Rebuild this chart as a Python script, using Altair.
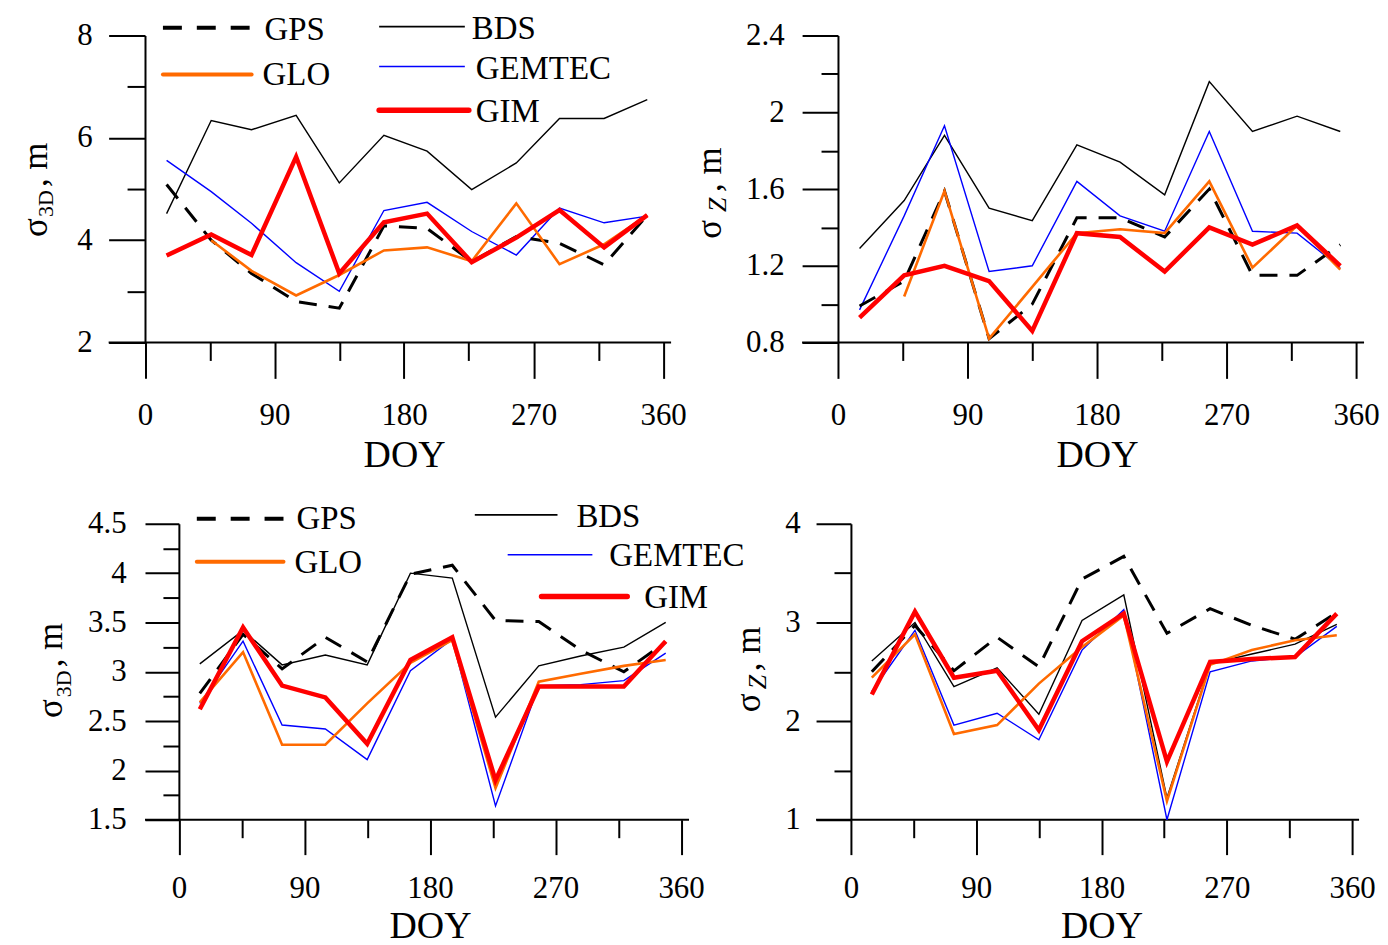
import altair as alt
import pandas as pd

# ---------------- data ----------------
DOY = [15, 46, 74, 105, 135, 166, 196, 227, 258, 288, 319, 349]
X_TICKS = [0, 45, 90, 135, 180, 225, 270, 315, 360]

# top-left: sigma 3D
p1_GPS = [5.09, 4.00, 3.35, 2.80, 2.67, 4.28, 4.23, 3.58, 4.07, 3.94, 3.52, 4.49]
p1_BDS = [4.52, 6.34, 6.16, 6.44, 5.12, 6.05, 5.74, 4.99, 5.51, 6.38, 6.38, 6.75]
p1_GLO = [None, 4.00, 3.40, 2.92, 3.32, 3.80, 3.86, 3.59, 4.72, 3.53, 3.92, 4.49]
p1_GEMTEC = [5.56, 4.95, 4.33, 3.56, 3.00, 4.58, 4.74, 4.17, 3.71, 4.63, 4.34, 4.47]
p1_GIM = [3.70, 4.11, 3.71, 5.63, 3.35, 4.35, 4.52, 3.57, 4.05, 4.59, 3.86, 4.49]
p1_YTICKS = [2, 3, 4, 5, 6, 7, 8]

# top-right: sigma Z
p2_GPS = [0.99, 1.12, 1.59, 0.82, 1.00, 1.45, 1.45, 1.35, 1.60, 1.15, 1.15, 1.31]
p2_BDS = [1.29, 1.54, 1.88, 1.50, 1.435, 1.83, 1.74, 1.57, 2.16, 1.90, 1.98, 1.90]
p2_GLO = [None, 1.04, 1.59, 0.82, 1.09, 1.37, 1.39, 1.37, 1.64, 1.19, 1.41, 1.18]
p2_GEMTEC = [0.97, 1.46, 1.93, 1.17, 1.20, 1.64, 1.46, 1.38, 1.90, 1.38, 1.37, 1.19]
p2_GIM = [0.93, 1.15, 1.20, 1.12, 0.86, 1.37, 1.35, 1.17, 1.40, 1.31, 1.41, 1.20]
p2_YTICKS = [0.8, 1.0, 1.2, 1.4, 1.6, 1.8, 2.0, 2.2, 2.4]

# bottom-left: sigma 3D
p3_GPS = [2.78, 3.38, 3.03, 3.35, 3.10, 3.99, 4.08, 3.52, 3.51, 3.22, 3.00, 3.30]
p3_BDS = [3.08, 3.42, 3.07, 3.17, 3.07, 4.00, 3.95, 2.54, 3.06, 3.16, 3.25, 3.50]
p3_GLO = [2.69, 3.20, 2.26, 2.26, 2.68, 3.09, 3.32, 1.82, 2.90, 2.98, 3.06, 3.12]
p3_GEMTEC = [2.68, 3.31, 2.46, 2.42, 2.11, 3.01, 3.33, 1.64, 2.86, 2.87, 2.91, 3.19]
p3_GIM = [2.62, 3.45, 2.86, 2.74, 2.27, 3.12, 3.35, 1.90, 2.85, 2.85, 2.85, 3.31]
p3_YTICKS = [1.5, 1.75, 2.0, 2.25, 2.5, 2.75, 3.0, 3.25, 3.5, 3.75, 4.0, 4.25, 4.5]

# bottom-right: sigma Z
p4_GPS = [2.50, 2.97, 2.51, 2.85, 2.55, 3.44, 3.67, 2.89, 3.14, 2.97, 2.83, 3.10]
p4_BDS = [2.61, 3.00, 2.35, 2.54, 2.07, 3.02, 3.28, 1.22, 2.58, 2.68, 2.78, 2.98]
p4_GLO = [2.44, 2.88, 1.87, 1.96, 2.38, 2.75, 3.07, 1.19, 2.57, 2.72, 2.82, 2.87]
p4_GEMTEC = [2.30, 2.92, 1.96, 2.08, 1.81, 2.72, 3.13, 1.00, 2.50, 2.61, 2.65, 2.96]
p4_GIM = [2.27, 3.11, 2.44, 2.51, 1.91, 2.81, 3.09, 1.59, 2.60, 2.63, 2.65, 3.09]
p4_YTICKS = [1.0, 1.5, 2.0, 2.5, 3.0, 3.5, 4.0]

SERIES_ORDER = ["BDS", "GEMTEC", "GPS", "GLO", "GIM"]

# ---------------- styles ----------------
FONT = "Liberation Serif"
STYLE = {
    "BDS": dict(color="#000000", strokeWidth=1.4),
    "GEMTEC": dict(color="#0000FF", strokeWidth=1.4),
    "GPS": dict(color="#000000", strokeWidth=3, strokeDash=[18, 12]),
    "GLO": dict(color="#FF6A00", strokeWidth=2.6),
    "GIM": dict(color="#FF0000", strokeWidth=4.5),
}
LEG_STYLE = {
    "BDS": dict(color="#000000", strokeWidth=1.6),
    "GEMTEC": dict(color="#0000FF", strokeWidth=1.6),
    "GPS": dict(color="#000000", strokeWidth=4, strokeDash=[19, 15]),
    "GLO": dict(color="#FF6A00", strokeWidth=4, strokeCap="round"),
    "GIM": dict(color="#FF0000", strokeWidth=5.5, strokeCap="round"),
}
ONE = pd.DataFrame({"a": [0]})


def text(t, x, y, size, angle=0, style="normal"):
    kw = dict(font=FONT, fontSize=size, align="left", baseline="alphabetic",
              color="black", text=t, fontStyle=style)
    if angle:
        kw["angle"] = angle
    return alt.Chart(ONE).mark_text(**kw).encode(x=alt.value(x), y=alt.value(y))


def anchor(x, y):
    return alt.Chart(ONE).mark_point(opacity=0, size=1, filled=True).encode(
        x=alt.value(x), y=alt.value(y))


def panel(series, geom, yticks, ytest, xmaj, xmin_t, xpad, ymaj, ymin_t, ypad,
          titleY, ytitle, legend, extras=()):
    # L: left edge of the plot area, X0: left end of x-axis line, A: x of DOY 0,
    # R360: x of DOY 360, Rend: right end of plot/axis line, T/B: top/bottom
    L, X0, A, R360, Rend, T, B = geom
    ppu = (R360 - A) / 360.0
    xlo = -(A - L) / ppu
    xhi = (Rend - A) / ppu
    width = Rend - L
    height = B - T

    xenc = alt.X("doy:Q",
                 scale=alt.Scale(domain=[xlo, xhi], nice=False, zero=False),
                 axis=alt.Axis(values=X_TICKS, domain=False,
                               tickSize={"condition": {"test": "datum.value % 90 === 0", "value": xmaj}, "value": xmin_t},
                               labelExpr="datum.value % 90 === 0 ? datum.label : ''",
                               labelPadding=xpad, labelOverlap=False, labelFlush=False,
                               title="DOY", titleX=(A - L) + 180 * ppu, titleY=titleY,
                               titleBaseline="alphabetic", titleAlign="center",
                               titleFontSize=38))
    yenc = alt.Y("v:Q",
                 scale=alt.Scale(domain=[yticks[0], yticks[-1]], nice=False, zero=False),
                 axis=alt.Axis(values=yticks, offset=-(A - L),
                               tickSize={"condition": {"test": ytest, "value": ymaj}, "value": ymin_t},
                               labelExpr="(" + ytest + ") ? ('' + datum.value) : ''",
                               labelPadding=ypad, labelOverlap=False, labelFlush=False,
                               title=None))
    layers = [alt.Chart(ONE).mark_rule(color="black", strokeWidth=2).encode(
        x=alt.value(X0 - L), x2=alt.value(width), y=alt.value(height))]
    for name in SERIES_ORDER:
        df = pd.DataFrame({"doy": DOY, "v": series[name]}).dropna()
        layers.append(alt.Chart(df).mark_line(**STYLE[name]).encode(x=xenc, y=yenc))

    # y title (with subscript)
    (sx, sy), (bx, by, sub, substyle, subsize), (mx, my) = ytitle
    layers.append(text("σ", sx - L, sy - T, 35, angle=270))
    layers.append(text(sub, bx - L, by - T, subsize, angle=270, style=substyle))
    layers.append(text(", m", mx - L, my - T, 35, angle=270))

    # legend (page coordinates)
    for name, (x1, x2, yl, tx, ty) in (legend or {}).items():
        layers.append(alt.Chart(ONE).mark_rule(**LEG_STYLE[name]).encode(
            x=alt.value(x1 - L), x2=alt.value(x2 - L), y=alt.value(yl - T)))
        layers.append(text(name, tx - L, ty - T, 33))
    for (ax, ay) in extras:
        layers.append(anchor(ax - L, ay - T))
    return alt.layer(*layers).properties(width=width, height=height)


def spacer(w):
    return alt.Chart(ONE).mark_point(opacity=0).encode(
        x=alt.value(0), y=alt.value(0)).properties(width=w, height=10)


# geometry in page pixels
COL1_L = 108.5
COL2_L = 804
G1 = (COL1_L, 108.5, 145, 665, 673, 33, 341)
G2 = (COL2_L, 804, 840, 1360, 1368, 33, 341)
G3 = (COL1_L, 145, 179, 683, 691, 523, 820)
G4 = (COL2_L, 818, 853, 1356, 1363, 523, 820)

# legends: line x1, x2, line y, label x, label baseline (page pixels)
leg1 = {
    "GPS": (163, 252, 25, 265, 37),
    "GLO": (163, 252, 72, 263, 83),
    "BDS": (380, 466, 24, 473, 36),
    "GEMTEC": (380, 466, 64, 477, 77),
    "GIM": (380, 470, 108, 477, 120),
}
leg3 = {
    "GPS": (197, 284, 518, 297, 528),
    "GLO": (197, 284, 561, 295, 572),
    "BDS": (476, 559, 514, 578, 526),
    "GEMTEC": (509, 594, 554, 611, 565),
    "GIM": (543, 629, 596, 646, 607),
}

p1 = panel({"GPS": p1_GPS, "BDS": p1_BDS, "GLO": p1_GLO, "GEMTEC": p1_GEMTEC, "GIM": p1_GIM},
           G1, p1_YTICKS, "datum.value % 2 === 0", 36, 18, 22, 36.5, 18, 16.5, 124,
           ((47, 235), (53, 215, "3D", "normal", 22), (47, 185)), leg1,
           extras=[(8, 8)])
p2 = panel({"GPS": p2_GPS, "BDS": p2_BDS, "GLO": p2_GLO, "GEMTEC": p2_GEMTEC, "GIM": p2_GIM},
           G2, p2_YTICKS, "round(datum.value * 10) % 4 === 0", 36, 18, 22, 36, 17, 18, 124,
           ((723, 237), (728, 210, "Z", "italic", 26), (723, 190)), None)
p3 = panel({"GPS": p3_GPS, "BDS": p3_BDS, "GLO": p3_GLO, "GEMTEC": p3_GEMTEC, "GIM": p3_GIM},
           G3, p3_YTICKS, "round(datum.value * 4) % 2 === 0", 35, 18, 19, 34, 16, 19, 118,
           ((62, 718), (71, 697, "3D", "normal", 22), (62, 667)), leg3)
p4 = panel({"GPS": p4_GPS, "BDS": p4_BDS, "GLO": p4_GLO, "GEMTEC": p4_GEMTEC, "GIM": p4_GIM},
           G4, p4_YTICKS, "round(datum.value * 2) % 2 === 0", 35, 18, 19, 35, 17, 16, 118,
           ((762, 712), (768, 689, "Z", "italic", 26), (762, 671)), None)

gap = COL2_L - G3[4]  # spacer column between the widest left panel and the right column
chart = alt.concat(
    p1, spacer(gap), p2,
    p3, spacer(gap), p4,
    columns=3, spacing={"row": G3[5] - G1[6], "column": 0}, bounds="flush", align="each",
).properties(padding=0, background="white").configure_view(stroke=None).configure_axis(
    grid=False, domainColor="black", domainWidth=2, tickColor="black", tickWidth=2,
    labelFont=FONT, labelFontSize=31, labelColor="black",
    titleFont=FONT, titleFontWeight="normal", titleColor="black"
)

chart.save("out.html", embed_options={"renderer": "svg", "actions": False})
